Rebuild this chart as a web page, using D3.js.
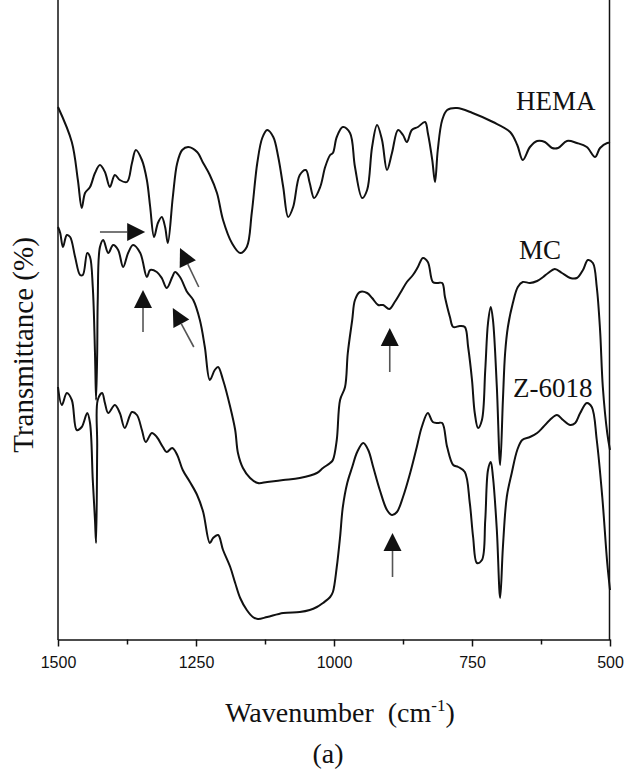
<!DOCTYPE html>
<html>
<head>
<meta charset="utf-8">
<script src="https://cdn.jsdelivr.net/npm/d3@7"></script>
<style>
  body { margin: 0; background: #fff; }
  text { fill: #111; }
</style>
</head>
<body>
<div id="chart"></div>
<script>
// FTIR spectra (wavenumber in cm-1, transmittance in offset units)
var hemaWn = [1500, 1475, 1464, 1457, 1451, 1442, 1433, 1424, 1415, 1406, 1397, 1388, 1375, 1366, 1359, 1348, 1339, 1333, 1326, 1319, 1312, 1306, 1301, 1292, 1284, 1275, 1264, 1248, 1237, 1225, 1212, 1201, 1185, 1170, 1158, 1149, 1139, 1130, 1121, 1110, 1101, 1092, 1083, 1074, 1062, 1051, 1044, 1036, 1025, 1016, 1007, 1002, 995, 984, 971, 962, 949, 940, 931, 922, 913, 904, 895, 884, 875, 868, 859, 848, 835, 830, 822, 817, 812, 804, 795, 777, 749, 712, 681, 668, 658, 645, 632, 618, 605, 594, 578, 560, 542, 527, 518, 505, 500];
var hemaT = [106.6, 99.6, 92.0, 86.4, 89.4, 90.6, 93.4, 95.0, 93.6, 90.6, 93.0, 92.0, 91.6, 95.4, 98.0, 96.0, 92.0, 86.6, 80.6, 83.4, 84.6, 82.6, 79.4, 88.6, 95.4, 98.0, 98.6, 97.6, 95.4, 93.0, 89.4, 84.0, 79.4, 77.4, 78.6, 85.4, 95.4, 100.4, 102.0, 100.6, 96.6, 90.6, 84.6, 86.6, 93.0, 94.0, 91.4, 88.4, 90.6, 94.6, 97.0, 97.4, 100.6, 102.6, 101.4, 94.6, 88.4, 90.0, 98.6, 103.0, 100.0, 94.0, 97.4, 102.0, 101.0, 99.6, 102.0, 102.6, 103.6, 101.4, 96.0, 91.6, 98.0, 104.0, 106.0, 106.4, 105.4, 103.6, 101.6, 99.0, 96.0, 98.6, 99.8, 99.6, 98.4, 98.4, 99.8, 99.4, 98.6, 96.6, 98.4, 99.4, 99.4];

var mcWn = [1500, 1496, 1491, 1484, 1478, 1469, 1460, 1455, 1447, 1442, 1437, 1433, 1431, 1429, 1428, 1424, 1418, 1409, 1400, 1391, 1382, 1373, 1364, 1351, 1339, 1333, 1321, 1312, 1303, 1293, 1288, 1279, 1266, 1255, 1243, 1234, 1225, 1216, 1210, 1201, 1188, 1179, 1174, 1165, 1152, 1138, 1121, 1092, 1062, 1031, 1020, 1007, 1002, 995, 989, 980, 975, 967, 962, 953, 940, 931, 920, 911, 900, 890, 880, 868, 857, 848, 839, 830, 821, 813, 804, 799, 790, 784, 772, 763, 757, 750, 745, 739, 732, 726, 721, 716, 712, 705, 699, 694, 690, 685, 676, 667, 658, 645, 632, 621, 612, 600, 587, 572, 560, 549, 540, 531, 524, 518, 513, 505, 500];
var mcT = [82.6, 81.4, 78.6, 81.0, 80.6, 76.6, 73.0, 73.0, 77.4, 76.6, 70.6, 57.4, 48.0, 57.4, 68.0, 78.6, 80.0, 77.4, 79.0, 78.0, 74.6, 77.4, 79.0, 77.4, 72.6, 74.0, 73.6, 72.4, 70.4, 72.6, 73.6, 72.6, 69.6, 68.0, 64.0, 58.6, 52.0, 54.0, 54.6, 52.0, 46.6, 42.0, 37.4, 34.4, 32.4, 31.4, 31.6, 32.0, 32.4, 33.4, 34.4, 35.4, 36.0, 40.0, 48.0, 50.6, 57.4, 64.0, 68.0, 69.6, 69.4, 68.4, 67.0, 67.0, 66.2, 67.6, 69.4, 71.6, 73.0, 74.6, 76.4, 75.6, 71.6, 71.4, 71.4, 68.6, 64.6, 62.6, 62.8, 62.6, 58.6, 52.0, 45.4, 42.4, 44.0, 54.0, 63.4, 66.6, 64.0, 50.6, 35.0, 48.0, 57.4, 62.6, 67.4, 70.6, 71.6, 71.4, 71.8, 72.6, 73.4, 74.2, 73.4, 72.4, 72.4, 74.0, 76.0, 75.4, 70.6, 62.0, 50.6, 41.4, 38.0];

var zWn = [1500, 1493, 1484, 1475, 1466, 1457, 1447, 1442, 1437, 1433, 1431, 1429, 1428, 1420, 1415, 1409, 1397, 1388, 1379, 1366, 1357, 1348, 1341, 1330, 1321, 1310, 1303, 1293, 1284, 1274, 1261, 1248, 1237, 1225, 1219, 1210, 1201, 1188, 1179, 1170, 1158, 1147, 1138, 1121, 1092, 1062, 1044, 1031, 1020, 1007, 1002, 995, 989, 984, 976, 967, 958, 947, 938, 929, 917, 904, 895, 886, 875, 862, 850, 841, 830, 821, 812, 804, 795, 784, 775, 763, 754, 748, 741, 732, 726, 721, 716, 712, 705, 699, 694, 687, 678, 668, 659, 645, 632, 621, 609, 596, 585, 572, 563, 554, 542, 533, 524, 514, 505, 500];
var zT = [50.6, 47.0, 49.4, 48.0, 42.0, 42.6, 45.4, 43.4, 32.0, 24.0, 19.4, 38.6, 48.0, 49.4, 47.4, 45.4, 47.0, 45.4, 42.4, 45.6, 45.0, 42.0, 39.6, 41.4, 40.6, 38.6, 37.6, 38.4, 37.0, 34.0, 31.6, 29.0, 25.6, 19.4, 20.4, 21.0, 18.0, 14.6, 11.4, 8.4, 6.0, 4.6, 4.2, 4.6, 5.4, 5.6, 6.0, 6.6, 7.4, 8.6, 9.6, 14.6, 20.6, 26.6, 31.4, 34.6, 37.6, 39.4, 38.0, 34.6, 30.0, 26.0, 25.0, 25.6, 28.6, 33.4, 38.6, 42.6, 45.4, 43.6, 43.4, 43.4, 38.6, 35.0, 34.6, 33.6, 27.4, 20.6, 15.4, 16.0, 24.0, 34.0, 35.6, 32.6, 22.0, 8.4, 18.6, 28.6, 33.4, 38.0, 40.0, 40.6, 41.4, 42.6, 44.0, 45.0, 44.0, 43.0, 43.4, 45.4, 47.4, 46.6, 40.0, 28.6, 15.4, 10.0];

var majorTicks = [1500, 1250, 1000, 750, 500];
var minorTicks = [1375, 1125, 875, 625];

// arrows: [tail wn, tail T, tip wn, tip T]
var arrows = [
  [1424, 81.6, 1342, 81.6],
  [1245, 70.6, 1279, 78.4],
  [1346, 61.6, 1346, 70.0],
  [1254, 58.6, 1292, 66.4],
  [899, 53.6, 899, 62.4],
  [894, 12.6, 894, 21.4]
];

var svgWidth = 624;
var svgHeight = 769;

var svg = d3.select("#chart")
  .append("svg")
  .attr("width", svgWidth)
  .attr("height", svgHeight);

var x = d3.scaleLinear().domain([1500, 500]).range([58, 610]);
var y = d3.scaleLinear().domain([0, 128]).range([640, 0]);

// frame sides
svg.append("line")
  .attr("x1", x(1500)).attr("x2", x(1500))
  .attr("y1", 0).attr("y2", 640)
  .attr("stroke", "#111").attr("stroke-width", 1.5);
svg.append("line")
  .attr("x1", x(500) - 0.5).attr("x2", x(500) - 0.5)
  .attr("y1", 0).attr("y2", 640)
  .attr("stroke", "#111").attr("stroke-width", 1.5);

var bottomAxis = d3.axisBottom(x)
  .tickValues(majorTicks)
  .tickSize(7)
  .tickSizeOuter(0)
  .tickPadding(10)
  .tickFormat(d3.format("d"));

var xAxisG = svg.append("g")
  .attr("transform", "translate(0, 639.5)")
  .call(bottomAxis);
xAxisG.select(".domain").attr("stroke", "#111").attr("stroke-width", 1.5);
xAxisG.selectAll(".tick line").attr("stroke", "#111").attr("stroke-width", 1.5);
xAxisG.selectAll(".tick text")
  .attr("font-family", "'Liberation Sans', Arial, sans-serif")
  .attr("font-size", 16)
  .attr("fill", "#222");

var minorAxis = d3.axisBottom(x)
  .tickValues(minorTicks)
  .tickSize(5)
  .tickSizeOuter(0)
  .tickFormat("");
var minorG = svg.append("g")
  .attr("transform", "translate(0, 639.5)")
  .call(minorAxis);
minorG.select(".domain").remove();
minorG.selectAll(".tick line").attr("stroke", "#111").attr("stroke-width", 1.5);

// spectra
var line = d3.line()
  .x(d => x(d[0]))
  .y(d => y(d[1]))
  .curve(d3.curveCatmullRom.alpha(0.5));

var series = [
  { name: "HEMA", wn: hemaWn, t: hemaT },
  { name: "MC", wn: mcWn, t: mcT },
  { name: "Z-6018", wn: zWn, t: zT }
];

series.forEach(function(s) {
  var pts = s.wn.map((w, i) => [w, s.t[i]]);
  svg.append("path")
    .datum(pts)
    .attr("d", line)
    .attr("fill", "none")
    .attr("stroke", "#111")
    .attr("stroke-width", 2)
    .attr("stroke-linejoin", "round");
});

// arrows
arrows.forEach(function(a) {
  var x0 = x(a[0]), y0 = y(a[1]), x1 = x(a[2]), y1 = y(a[3]);
  var dx = x1 - x0, dy = y1 - y0;
  var len = Math.sqrt(dx * dx + dy * dy);
  var ux = dx / len, uy = dy / len;
  var headLen = 18, headHalf = 9;
  var bx = x1 - ux * headLen, by = y1 - uy * headLen;
  svg.append("line")
    .attr("x1", x0).attr("y1", y0)
    .attr("x2", bx).attr("y2", by)
    .attr("stroke", "#555")
    .attr("stroke-width", 1.6);
  svg.append("polygon")
    .attr("points", [
      [x1, y1],
      [bx - uy * headHalf, by + ux * headHalf],
      [bx + uy * headHalf, by - ux * headHalf]
    ].map(p => p.join(",")).join(" "))
    .attr("fill", "#111");
});

// series labels
var serif = "'Liberation Serif', 'Times New Roman', serif";
svg.append("text").attr("x", 516).attr("y", 110)
  .attr("font-family", serif).attr("font-size", 27).text("HEMA");
svg.append("text").attr("x", 519).attr("y", 259)
  .attr("font-family", serif).attr("font-size", 27).text("MC");
svg.append("text").attr("x", 513).attr("y", 397)
  .attr("font-family", serif).attr("font-size", 27).text("Z-6018");

// axis titles
svg.append("text")
  .attr("transform", "translate(33, 345) rotate(-90)")
  .attr("text-anchor", "middle")
  .attr("font-family", serif)
  .attr("font-size", 29)
  .text("Transmittance (%)");

var xt = svg.append("text")
  .attr("x", 340)
  .attr("y", 722)
  .attr("text-anchor", "middle")
  .attr("font-family", serif)
  .attr("font-size", 28)
  .style("white-space", "pre");
xt.append("tspan").text("Wavenumber  (cm");
xt.append("tspan").attr("font-size", 17).attr("dy", -11).text("-1");
xt.append("tspan").attr("dy", 11).text(")");

svg.append("text")
  .attr("x", 328)
  .attr("y", 763)
  .attr("text-anchor", "middle")
  .attr("font-family", serif)
  .attr("font-size", 28)
  .text("(a)");
</script>
</body>
</html>
